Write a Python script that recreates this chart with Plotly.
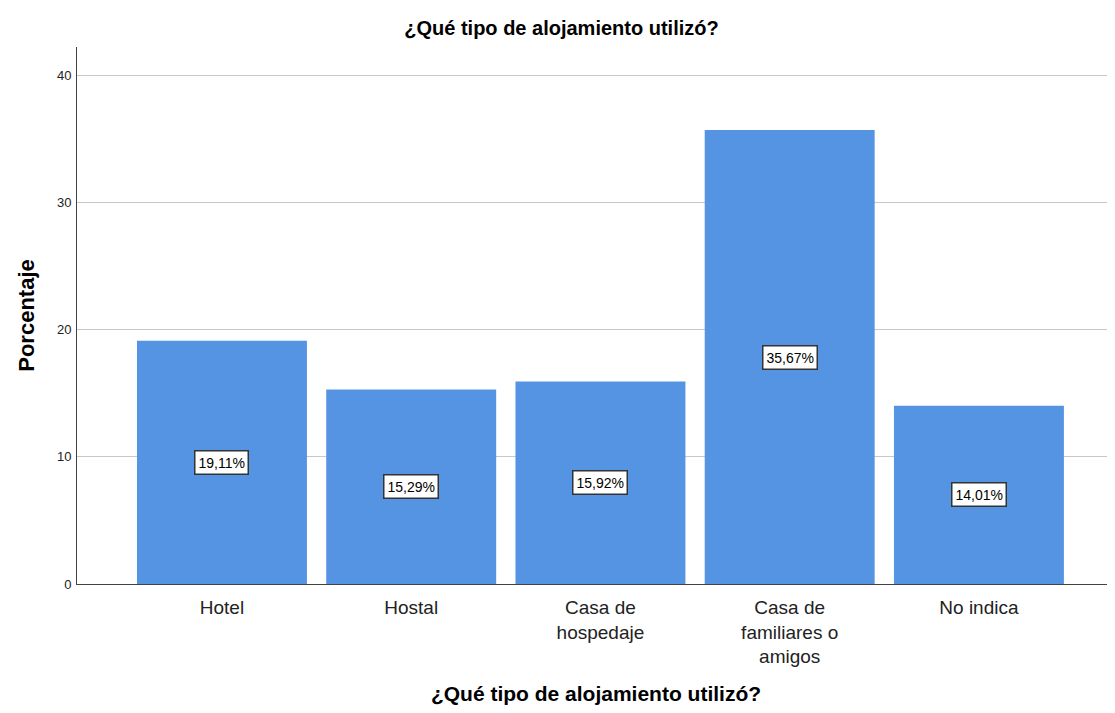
import plotly.graph_objects as go

categories = ["Hotel", "Hostal", "Casa de<br>hospedaje", "Casa de<br>familiares o<br>amigos", "No indica"]
values = [19.11, 15.29, 15.92, 35.67, 14.01]
labels = ["19,11%", "15,29%", "15,92%", "35,67%", "14,01%"]

font_family = "Liberation Sans, Arial, sans-serif"

fig = go.Figure()
fig.add_trace(go.Bar(
    x=list(range(len(categories))),
    y=values,
    marker=dict(color="#5594E3", line=dict(width=0)),
    width=0.898,
    hoverinfo="skip",
))

for i, (v, lab) in enumerate(zip(values, labels)):
    fig.add_annotation(
        x=i, y=v / 2, text=lab, showarrow=False,
        font=dict(size=14, color="black", family=font_family),
        bgcolor="white", bordercolor="#333333", borderwidth=1.5, borderpad=3,
    )

fig.update_layout(
    width=1107, height=697,
    margin=dict(l=69, r=0, t=39, b=121),
    plot_bgcolor="white", paper_bgcolor="white",
    showlegend=False,
    font=dict(family=font_family, color="black"),
    title=dict(text="<b>¿Qué tipo de alojamiento utilizó?</b>", x=0.5, xanchor="center",
               y=1 - 20 / 697, yanchor="middle", font=dict(size=20, color="black")),
)
fig.update_xaxes(
    range=[-0.766, 4.719],
    tickmode="array", tickvals=list(range(len(categories))), ticktext=categories,
    tickfont=dict(size=19, color="#222222"),
    ticklabelstandoff=6,
    showline=True, linecolor="#444444", linewidth=1,
    showgrid=False, ticks="", zeroline=False,
    title=dict(text="<b>¿Qué tipo de alojamiento utilizó?</b>", font=dict(size=21, color="black"), standoff=22),
)
fig.update_yaxes(
    range=[0, 42.2],
    tickvals=[0, 10, 20, 30, 40],
    tickfont=dict(size=13, color="#222222"),
    ticklabelstandoff=2,
    showline=True, linecolor="#444444", linewidth=1,
    showgrid=True, gridcolor="#c8c8c8", gridwidth=1,
    ticks="", zeroline=False,
    title=dict(text="<b>Porcentaje</b>", font=dict(size=22, color="black"), standoff=16),
)

fig.write_html("out.html")
